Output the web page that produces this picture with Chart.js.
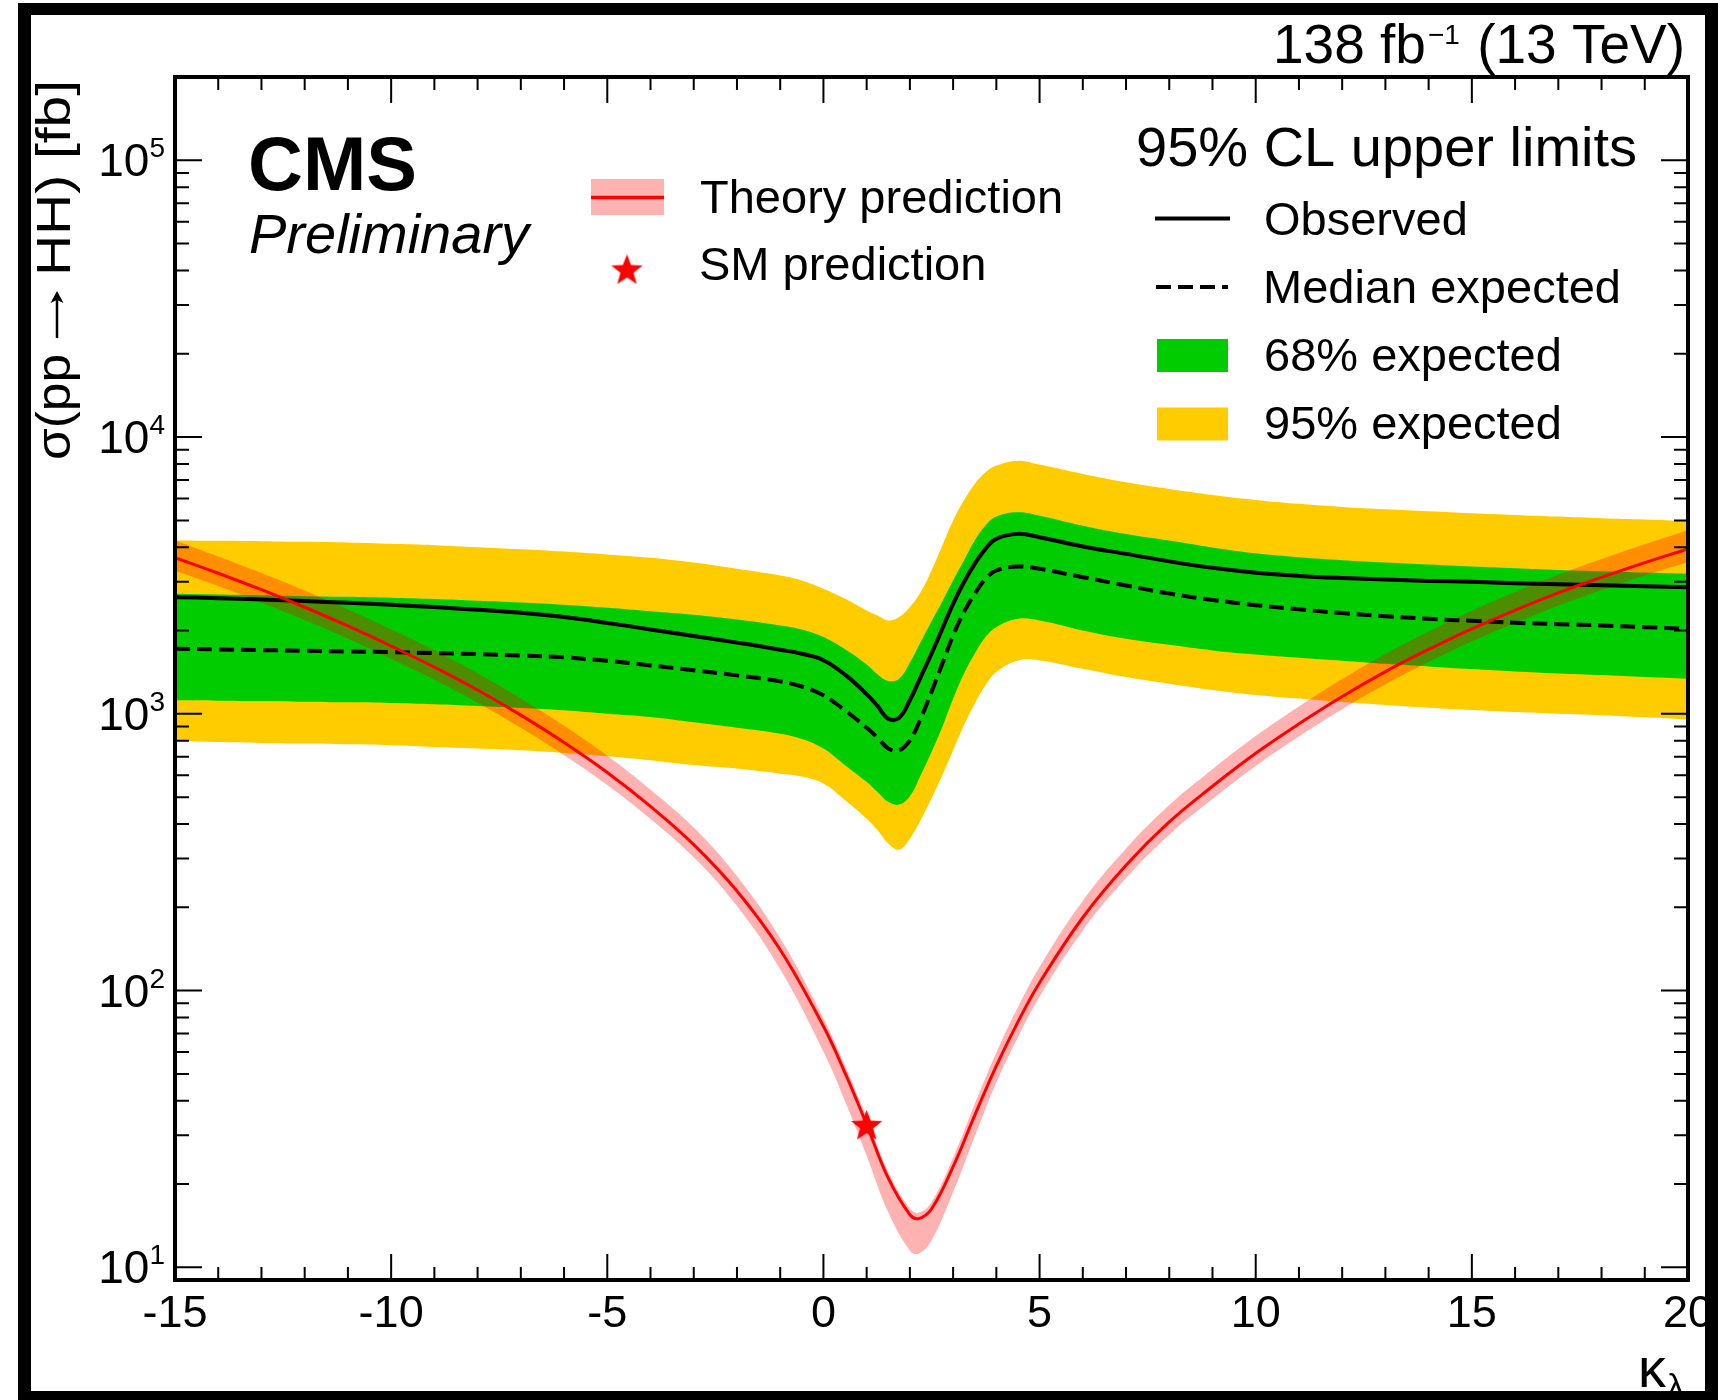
<!DOCTYPE html>
<html>
<head>
<meta charset="utf-8">
<title>HH kappa_lambda scan</title>
<script src="https://cdn.jsdelivr.net/npm/chart.js@4.4.1/dist/chart.umd.min.js"></script>
<style>
    html, body { margin: 0; padding: 0; background: #ffffff; }
    #limit-chart { display: block; }
</style>
</head>
<body>
<canvas id="limit-chart" width="1718" height="1400"></canvas>
<script>
// DATA
const klLimits = [-15, -14, -13, -12, -11, -10, -9, -8, -7, -6, -5, -4, -3, -2, -1, -0.5, 0, 0.5, 1, 1.25, 1.5, 1.75, 2, 2.25, 2.5, 2.75, 3, 3.25, 3.5, 3.75, 4, 4.5, 5, 6, 7, 8, 9, 10, 11, 12, 13, 14, 15, 16, 17, 18, 19, 20];
const observedLimit = [2640, 2618, 2589, 2554, 2519, 2478, 2430, 2377, 2318, 2236, 2130, 2018, 1910, 1808, 1705, 1648, 1562, 1385, 1178, 1068, 960, 968, 1119, 1358, 1649, 2029, 2498, 2990, 3483, 3945, 4287, 4469, 4347, 4023, 3784, 3555, 3370, 3235, 3150, 3095, 3056, 3022, 2999, 2966, 2941, 2917, 2893, 2869];
const expectedLimit = [1718, 1709, 1699, 1690, 1680, 1671, 1657, 1643, 1625, 1600, 1554, 1496, 1436, 1377, 1310, 1255, 1166, 1029, 891, 820, 750, 738, 802, 961, 1199, 1517, 1920, 2331, 2714, 3074, 3295, 3406, 3341, 3117, 2909, 2720, 2580, 2470, 2385, 2312, 2254, 2204, 2168, 2133, 2109, 2086, 2057, 2029];
const band68Up = [2714, 2699, 2684, 2662, 2647, 2625, 2597, 2561, 2526, 2478, 2417, 2350, 2280, 2190, 2085, 2016, 1893, 1710, 1507, 1390, 1315, 1340, 1530, 1816, 2157, 2547, 3032, 3581, 4228, 4789, 5161, 5350, 5200, 4786, 4466, 4227, 3990, 3800, 3680, 3590, 3520, 3462, 3405, 3358, 3312, 3275, 3239, 3204];
const band68Down = [1119, 1116, 1113, 1106, 1100, 1094, 1082, 1067, 1050, 1030, 1001, 974, 932, 891, 848, 811, 749, 652, 567, 522, 481, 470, 504, 600, 728, 897, 1134, 1396, 1649, 1893, 2057, 2205, 2175, 2001, 1867, 1775, 1695, 1638, 1595, 1556, 1517, 1484, 1451, 1423, 1400, 1380, 1358, 1339];
const band95Up = [4228, 4217, 4205, 4182, 4159, 4113, 4068, 4001, 3934, 3858, 3764, 3661, 3520, 3342, 3161, 3032, 2829, 2604, 2363, 2267, 2175, 2236, 2430, 2753, 3295, 4057, 4992, 5895, 6769, 7459, 7886, 8219, 7952, 7357, 6864, 6494, 6180, 5930, 5740, 5593, 5486, 5395, 5306, 5233, 5161, 5090, 5034, 4965];
const band95Down = [798, 791, 785, 781, 776, 770, 759, 749, 738, 722, 703, 680, 653, 634, 608, 594, 560, 487, 418, 380, 340, 323, 354, 413, 494, 600, 738, 909, 1088, 1268, 1416, 1560, 1560, 1455, 1358, 1285, 1220, 1170, 1135, 1103, 1076, 1052, 1032, 1015, 1001, 988, 971, 953];

const klTheory = [-15, -14, -13, -12, -11, -10, -9, -8, -7, -6, -5, -4, -3, -2, -1, 0, 0.5, 1, 1.5, 2, 2.2, 2.5, 3, 3.5, 4, 4.5, 5, 6, 7, 8, 9, 10, 11, 12, 13, 14, 15, 16, 17, 18, 19, 20];
const theoryXs = [3665, 3220, 2808, 2427, 2077, 1757, 1475, 1219, 989, 788, 614, 463, 337, 229, 140.5, 74.3, 50.4, 32.8, 21.0, 15.5, 15.0, 16.25, 23.1, 35.4, 53.4, 77.1, 106.8, 183.7, 283.7, 406.8, 547.2, 720, 920, 1155, 1421, 1710, 2029, 2368, 2734, 3113, 3517, 3945];
const theoryUp = [4230, 3703, 3229, 2791, 2389, 2021, 1696, 1402, 1137, 906, 706, 532, 388, 259, 154.6, 79.5, 53.4, 34.8, 22.1, 16.3, 15.75, 17.2, 24.9, 38.9, 59.8, 87.1, 121.8, 211, 326, 468, 631, 831, 1063, 1336, 1646, 1983, 2356, 2753, 3182, 3627, 4103, 4610];
const theoryDown = [3290, 2898, 2527, 2184, 1869, 1581, 1328, 1097, 890, 709, 553, 417, 303, 202, 119.4, 60.2, 39.8, 25.3, 15.8, 11.5, 11.2, 12.5, 18.7, 29.7, 46.5, 67.8, 95.1, 165, 255, 366, 492, 648, 828, 1039, 1278, 1538, 1825, 2130, 2458, 2799, 3161, 3530];

const smPoint = [1, 32.8];

const xTickValues = [-15, -10, -5, 0, 5, 10, 15, 20];
const xTickLabels = ["-15", "-10", "-5", "0", "5", "10", "15", "20"];
const yTickExponents = [1, 2, 3, 4, 5];

// STYLE
const FONT = '"Liberation Sans", Arial, Helvetica, sans-serif';
const YELLOW = "rgb(255, 204, 0)";
const GREEN = "rgb(0, 204, 0)";
const THEORY_BAND = "rgba(255, 0, 0, 0.3)";
const RED = "rgb(255, 0, 0)";
const DASH = [15, 7];
const TENSION = 0.4;

// HELPERS
const toPoints = (xs, ys) => xs.map((x, i) => ({ x: x, y: ys[i] }));

const makeStar = (radius) => {
    const size = Math.ceil(radius * 2 + 4);
    const c = document.createElement("canvas");
    c.width = size;
    c.height = size;
    const g = c.getContext("2d");
    g.fillStyle = RED;
    g.beginPath();
    for (let i = 0; i < 10; i++) {
        const r = i % 2 === 0 ? radius : radius * 0.42;
        const a = -Math.PI / 2 + (i * Math.PI) / 5;
        const px = size / 2 + r * Math.cos(a);
        const py = size / 2 + radius * 0.1 + r * Math.sin(a);
        if (i === 0) g.moveTo(px, py);
        else g.lineTo(px, py);
    }
    g.closePath();
    g.fill();
    return c;
};
const starImage = makeStar(16.5);

const bandSet = (label, xs, ys, color, target, order) => ({
    label: label,
    data: toPoints(xs, ys),
    fill: target === null ? false : target,
    backgroundColor: color,
    borderColor: "rgba(0,0,0,0)",
    borderWidth: 0,
    pointRadius: 0,
    order: order,
});

const drawText = (ctx, str, x, y, font, align) => {
    ctx.font = font;
    ctx.textAlign = align || "left";
    ctx.textBaseline = "alphabetic";
    ctx.fillText(str, x, y);
};

// text squeezed or stretched along its baseline to a given length
const drawFitted = (ctx, str, x, length, font) => {
    ctx.save();
    ctx.font = font;
    const w = ctx.measureText(str).width;
    ctx.translate(x, 0);
    ctx.scale(length / w, 1);
    drawText(ctx, str, 0, 0, font, "left");
    ctx.restore();
};

// DECORATIONS: ROOT style frame, ticks, labels and legends
const rootStyle = {
    id: "rootStyle",
    beforeDraw(chart) {
        const ctx = chart.ctx;
        ctx.save();
        ctx.fillStyle = "#ffffff";
        ctx.fillRect(0, 0, chart.width, chart.height);
        ctx.restore();
    },
    afterDraw(chart) {
        const ctx = chart.ctx;
        const area = chart.chartArea;
        const xs = chart.scales.x;
        const ys = chart.scales.y;
        ctx.save();
        ctx.fillStyle = "#000";
        ctx.strokeStyle = "#000";

        // ticks on all four sides
        ctx.lineWidth = 2;
        ctx.beginPath();
        for (let v = xs.min; v <= xs.max; v += 1) {
            const px = xs.getPixelForValue(v);
            const len = v % 5 === 0 ? 26 : 13;
            ctx.moveTo(px, area.bottom);
            ctx.lineTo(px, area.bottom - len);
            ctx.moveTo(px, area.top);
            ctx.lineTo(px, area.top + len);
        }
        for (let e = 0; e <= 5; e++) {
            for (let m = 1; m <= 9; m++) {
                const v = m * Math.pow(10, e);
                if (v <= ys.min || v >= ys.max) continue;
                const py = ys.getPixelForValue(v);
                const len = m === 1 ? 27 : 14;
                ctx.moveTo(area.left, py);
                ctx.lineTo(area.left + len, py);
                ctx.moveTo(area.right, py);
                ctx.lineTo(area.right - len, py);
            }
        }
        ctx.stroke();

        // plot frame
        ctx.lineWidth = 4;
        ctx.strokeRect(area.left, area.top, area.right - area.left, area.bottom - area.top);

        // x tick labels
        xTickValues.forEach((v, i) => {
            drawText(ctx, xTickLabels[i], xs.getPixelForValue(v), area.bottom + 47, `45px ${FONT}`, "center");
        });

        // y tick labels 10^n
        yTickExponents.forEach((e) => {
            const py = ys.getPixelForValue(Math.pow(10, e));
            ctx.font = `28px ${FONT}`;
            const wSup = ctx.measureText(String(e)).width;
            ctx.font = `46px ${FONT}`;
            const wTen = ctx.measureText("10").width;
            const right = area.left - 10;
            drawText(ctx, "10", right - wSup - wTen, py + 16, `46px ${FONT}`, "left");
            drawText(ctx, String(e), right - wSup, py - 3, `28px ${FONT}`, "left");
        });

        // y axis title, rotated, read from bottom (y=460) to top (y=80)
        ctx.save();
        ctx.translate(70, 460);
        ctx.rotate(-Math.PI / 2);
        drawFitted(ctx, "σ(pp", 0, 106, `48px ${FONT}`);
        ctx.lineWidth = 2.5;
        ctx.beginPath();
        ctx.moveTo(122, -13);
        ctx.lineTo(166, -13);
        ctx.stroke();
        ctx.beginPath();
        ctx.moveTo(169, -13);
        ctx.lineTo(157, -19.5);
        ctx.lineTo(160, -13);
        ctx.lineTo(157, -6.5);
        ctx.closePath();
        ctx.fill();
        drawFitted(ctx, "HH) [fb]", 184, 196, `48px ${FONT}`);
        ctx.restore();

        // x axis title kappa_lambda
        ctx.font = `34px ${FONT}`;
        const wLam = ctx.measureText("λ").width;
        drawText(ctx, "λ", 1684, 1397, `34px ${FONT}`, "right");
        drawText(ctx, "κ", 1684 - wLam - 1, 1387, `56px ${FONT}`, "right");

        // CMS labels
        drawText(ctx, "CMS", 248, 190, `bold 76px ${FONT}`, "left");
        drawText(ctx, "Preliminary", 249, 253, `italic 56px ${FONT}`, "left");

        // luminosity label
        const lumiMain = "138 fb";
        const lumiSup = "−1";
        const lumiTail = " (13 TeV)";
        ctx.font = `55px ${FONT}`;
        const wMain = ctx.measureText(lumiMain).width;
        const wTail = ctx.measureText(lumiTail).width;
        ctx.font = `28px ${FONT}`;
        const wSupL = ctx.measureText(lumiSup).width;
        const lx = 1685 - wTail - wSupL - 4 - wMain;
        drawText(ctx, lumiMain, lx, 63, `55px ${FONT}`, "left");
        drawText(ctx, lumiSup, lx + wMain + 2, 44, `28px ${FONT}`, "left");
        drawText(ctx, lumiTail, lx + wMain + 4 + wSupL, 63, `55px ${FONT}`, "left");

        // left legend: theory
        ctx.fillStyle = THEORY_BAND;
        ctx.fillRect(591, 179, 73, 36);
        ctx.strokeStyle = RED;
        ctx.lineWidth = 3.5;
        ctx.beginPath();
        ctx.moveTo(591, 197.5);
        ctx.lineTo(664, 197.5);
        ctx.stroke();
        ctx.drawImage(starImage, 627 - starImage.width / 2, 269 - starImage.height / 2);
        ctx.fillStyle = "#000";
        drawText(ctx, "Theory prediction", 700, 213, `47px ${FONT}`, "left");
        drawText(ctx, "SM prediction", 699, 280, `47px ${FONT}`, "left");

        // right legend: limits
        drawText(ctx, "95% CL upper limits", 1136, 166, `56px ${FONT}`, "left");
        ctx.strokeStyle = "#000";
        ctx.lineWidth = 4;
        ctx.beginPath();
        ctx.moveTo(1155, 218.5);
        ctx.lineTo(1230, 218.5);
        ctx.stroke();
        ctx.setLineDash(DASH);
        ctx.beginPath();
        ctx.moveTo(1156, 287);
        ctx.lineTo(1228, 287);
        ctx.stroke();
        ctx.setLineDash([]);
        ctx.fillStyle = GREEN;
        ctx.fillRect(1157, 339, 71, 33);
        ctx.fillStyle = YELLOW;
        ctx.fillRect(1157, 407.5, 71, 33);
        ctx.fillStyle = "#000";
        drawText(ctx, "Observed", 1264, 235, `47px ${FONT}`, "left");
        drawText(ctx, "Median expected", 1263, 302.5, `47px ${FONT}`, "left");
        drawText(ctx, "68% expected", 1264, 370.5, `47px ${FONT}`, "left");
        drawText(ctx, "95% expected", 1264, 438.5, `47px ${FONT}`, "left");

        // outer black border of the picture
        ctx.fillStyle = "#000";
        ctx.fillRect(18, 3, 1700, 12);
        ctx.fillRect(18, 3, 13, 1397);
        ctx.fillRect(1705, 3, 13, 1397);
        ctx.fillRect(18, 1391, 1700, 9);
        ctx.restore();
    },
};

// CHART
const limitChart = document.getElementById("limit-chart");
const config = {
    type: "line",
    data: {
        datasets: [
            bandSet("95% expected", klLimits, band95Up, YELLOW, 1, 10),
            bandSet("95% lower", klLimits, band95Down, YELLOW, null, 10),
            bandSet("68% expected", klLimits, band68Up, GREEN, 3, 8),
            bandSet("68% lower", klLimits, band68Down, GREEN, null, 8),
            bandSet("Theory up", klTheory, theoryUp, THEORY_BAND, 5, 6),
            bandSet("Theory down", klTheory, theoryDown, THEORY_BAND, null, 6),
            {
                label: "Median expected",
                data: toPoints(klLimits, expectedLimit),
                fill: false,
                borderColor: "#000",
                borderWidth: 4,
                borderDash: DASH,
                pointRadius: 0,
                order: 4,
            },
            {
                label: "Observed",
                data: toPoints(klLimits, observedLimit),
                fill: false,
                borderColor: "#000",
                borderWidth: 4,
                pointRadius: 0,
                order: 3,
            },
            {
                label: "Theory prediction",
                data: toPoints(klTheory, theoryXs),
                fill: false,
                borderColor: RED,
                borderWidth: 3,
                pointRadius: 0,
                order: 2,
            },
            {
                label: "SM prediction",
                data: [{ x: smPoint[0], y: smPoint[1] }],
                showLine: false,
                pointStyle: starImage,
                pointRadius: 16,
                order: 1,
            },
        ],
    },
    options: {
        responsive: false,
        animation: false,
        devicePixelRatio: 1,
        layout: { padding: { left: 175, right: 30, top: 77, bottom: 120 } },
        elements: { line: { tension: TENSION } },
        scales: {
            x: { type: "linear", min: -15, max: 20, display: false },
            y: { type: "logarithmic", min: 9, max: 200000, display: false },
        },
        plugins: {
            legend: { display: false },
            tooltip: { enabled: false },
            filler: { propagate: false },
        },
    },
    plugins: [rootStyle],
};
// @ts-ignore
const chartCanvas = new Chart(limitChart, config);
</script>
</body>
</html>
